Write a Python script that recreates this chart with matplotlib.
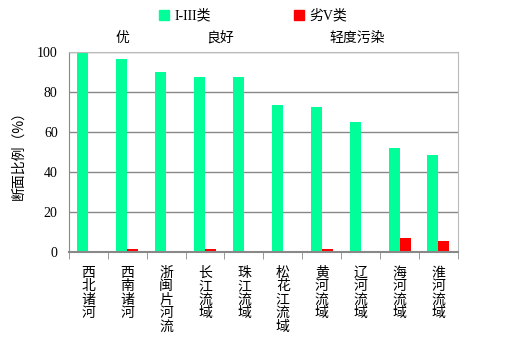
import numpy as np
import matplotlib
matplotlib.use("Agg")
import matplotlib.pyplot as plt
from matplotlib.patches import Rectangle

plt.rcParams['font.family'] = ['Liberation Serif', 'Noto Sans CJK SC', 'DejaVu Sans']

# Data
basins = ["西北诸河", "西南诸河", "浙闽片河流", "长江流域", "珠江流域",
          "松花江流域", "黄河流域", "辽河流域", "海河流域", "淮河流域"]
good = [100, 96.5, 90, 87.5, 87.5, 73.5, 72.5, 65, 52, 48.5]
bad = [0, 1.2, 0, 1.2, 0, 0, 1.2, 0, 7.0, 5.5]
series_names = ["I-III类", "劣V类"]
groups = ["优", "良好", "轻度污染"]

green = "#00FF99"
red = "#FF0000"

fig = plt.figure(figsize=(5.06, 3.46), dpi=100)
ax = fig.add_axes([0.136, 0.272, 0.769, 0.578])

x = np.arange(len(basins))
w = 0.283
ax.bar(x - w / 2, good, width=w, color=green, zorder=2)
ax.bar(x + w / 2, bad, width=w, color=red, zorder=2)

ax.set_xlim(-0.5, len(basins) - 0.5)
ax.set_ylim(0, 100)
ax.set_yticks([0, 20, 40, 60, 80, 100])
ax.tick_params(axis='y', length=0, labelsize=10, pad=8)
ax.grid(axis='y', color='#888888', linewidth=1, zorder=1)

# category boundary ticks
ax.set_xticks(np.arange(len(basins) + 1) - 0.5, minor=True)
ax.set_xticks(x)
ax.set_xticklabels(["\n".join(b) for b in basins], fontsize=10,
                   family=['Noto Sans CJK SC'], linespacing=0.95, va='top')
ax.tick_params(axis='x', which='major', length=0, pad=10)
ax.tick_params(axis='x', which='minor', length=5, color='#888888', direction='out')

for side in ["left", "bottom"]:
    ax.spines[side].set_color('#888888')
ax.spines["bottom"].set_linewidth(1.5)
for side in ["top", "right"]:
    ax.spines[side].set_color('#BBBBBB')

ax.set_ylabel("断面比例（%）", fontsize=10, family=['Noto Sans CJK SC'], labelpad=8)

# group labels above the plot
group_x = [0.89, 3.38, 6.9]
for gx, g in zip(group_x, groups):
    ax.text(gx, 103.5, g, ha='center', va='bottom', fontsize=10,
            family=['Noto Sans CJK SC'])

# legend
handles = [Rectangle((0, 0), 1, 1, color=green), Rectangle((0, 0), 1, 1, color=red)]
fig.legend(handles, series_names, loc='upper center', bbox_to_anchor=(0.50, 1.01),
           ncol=2, frameon=False, fontsize=10, handlelength=0.7, handleheight=0.7,
           handletextpad=0.4, columnspacing=6.0)

fig.savefig("out.png", dpi=100)
